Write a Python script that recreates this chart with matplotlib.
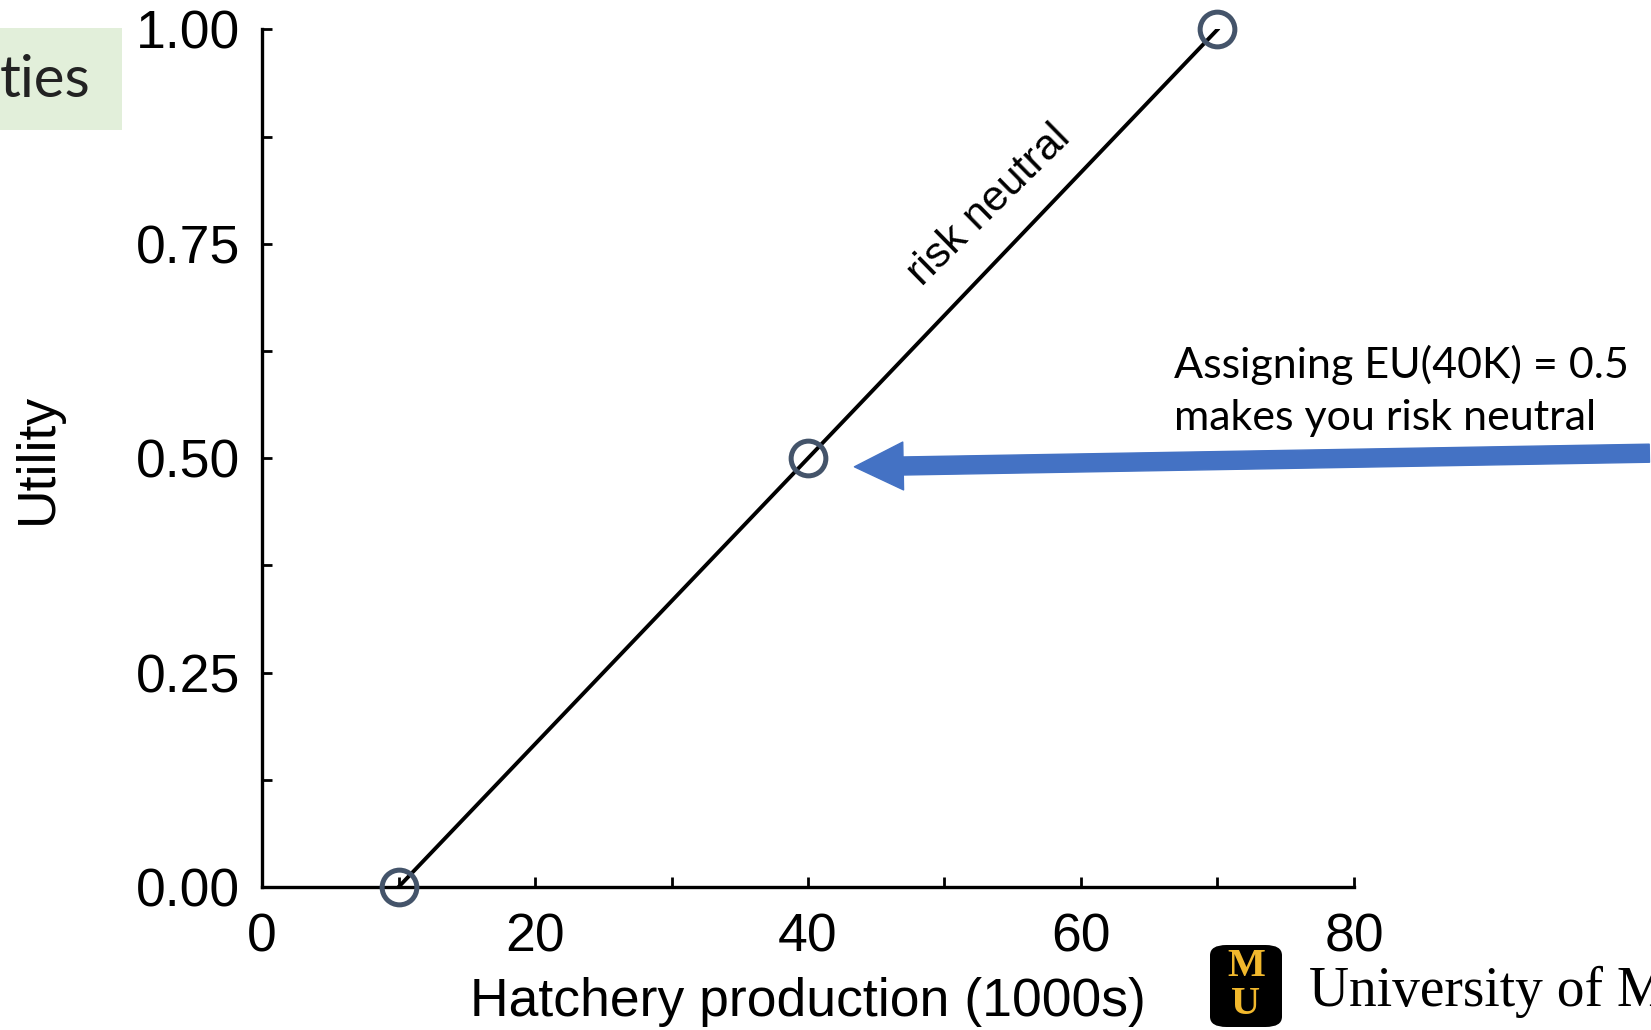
import matplotlib
matplotlib.use('Agg')
import matplotlib.pyplot as plt
from matplotlib.patches import Rectangle, FancyBboxPatch

# datos: produccion (miles) y utilidad asignada
produccion = [10, 40, 70]
utilidad = [0.0, 0.5, 1.0]
xticks = [0, 20, 40, 60, 80]
yticks = [0.0, 0.25, 0.5, 0.75, 1.0]
ytick_labels = ['0.00', '0.25', '0.50', '0.75', '1.00']

plt.rcParams['font.family'] = ['Liberation Sans', 'DejaVu Sans']

fig = plt.figure(figsize=(16.51, 10.30), dpi=100)
ax = fig.add_axes([0.1587, 0.1388, 0.6614, 0.8326])

ax.plot(produccion, utilidad, color='black', lw=2.8, zorder=2)
ax.plot(produccion, utilidad, 'o', ms=25, mfc='none', mec='#44546A', mew=3.6, zorder=3, clip_on=False)

ax.set_xlim(0, 80)
ax.set_ylim(0, 1)
ax.set_xticks(xticks)
ax.set_xticks([10, 30, 50, 70], minor=True)
ax.set_yticks(yticks)
ax.set_yticklabels(ytick_labels)
ax.set_yticks([0.125, 0.375, 0.625, 0.875], minor=True)
ax.tick_params(which='both', direction='in', length=7, width=2, labelsize=38.5, pad=16)
ax.tick_params(axis='x', pad=18)
for s in ['top', 'right']:
    ax.spines[s].set_visible(False)
for s in ['left', 'bottom']:
    ax.spines[s].set_linewidth(2.4)

ax.set_xlabel('Hatchery production (1000s)', fontsize=38.5, labelpad=11)
ax.set_ylabel('Utility', fontsize=38.5, labelpad=52)

ax.text(53.3, 0.795, 'risk neutral', fontsize=31, rotation=44.5,
        ha='center', va='center', rotation_mode='anchor')

# flecha azul
ax.annotate('', xy=(43.4, 0.49), xytext=(0.999, 0.560), textcoords='figure fraction',
            arrowprops=dict(arrowstyle='simple,head_length=2.7,head_width=2.65,tail_width=1',
                            mutation_scale=13, color='#4472C4', shrinkA=0, shrinkB=0),
            annotation_clip=False)

fig.text(1174 / 1651, 1 - 430 / 1030, 'Assigning EU(40K) = 0.5\nmakes you risk neutral',
         fontsize=31, family=['Lato', 'DejaVu Sans'], va='baseline', ha='left',
         linespacing=1.45)

# recuadro verde del titulo de la diapositiva
fig.patches.append(Rectangle((0, 1 - 130 / 1030), 122 / 1651, 102 / 1030,
                             transform=fig.transFigure, facecolor='#E2EFDA', edgecolor='none'))
fig.text(0, 1 - 97 / 1030, 'ties', fontsize=42, family=['Lato', 'DejaVu Sans'],
         va='baseline', ha='left', color='#222222')

# logo
fig.patches.append(FancyBboxPatch((1210 / 1651, 1 - 1027 / 1030), 72 / 1651, 82 / 1030,
                                  boxstyle='round,pad=0,rounding_size=0.01',
                                  transform=fig.transFigure, facecolor='black', edgecolor='none'))
fig.text(1246 / 1651, 1 - 967 / 1030, 'M', fontsize=29, fontweight='bold', color='#F1B82D',
         family='Liberation Serif', ha='center', va='center')
fig.text(1246 / 1651, 1 - 1005 / 1030, 'U', fontsize=29, fontweight='bold', color='#F1B82D',
         family='Liberation Serif', ha='center', va='center')
fig.text(1309 / 1651, 1 - 1006 / 1030, 'University of Missouri', fontsize=40,
         family='Liberation Serif', va='baseline', ha='left')

fig.savefig('out.png', dpi=100)
